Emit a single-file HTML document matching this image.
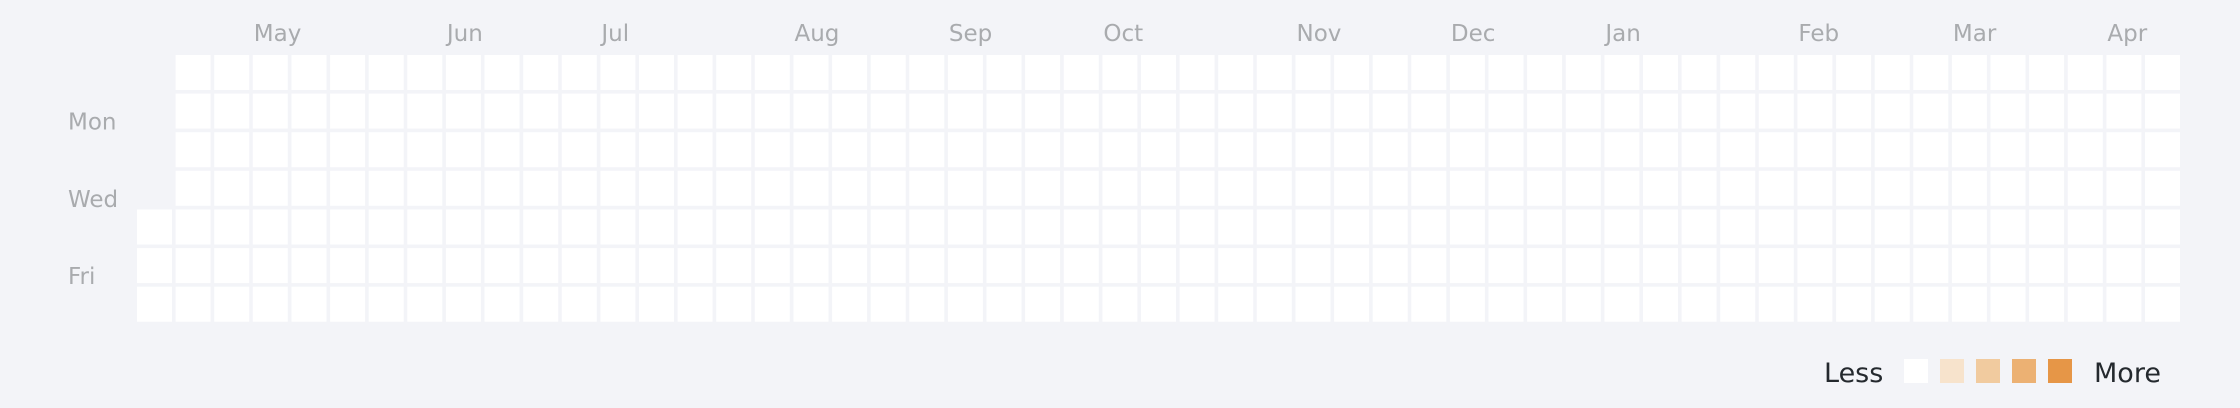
<!DOCTYPE html>
<html><head><meta charset="utf-8"><style>
html,body{margin:0;padding:0;background:#f3f4f8;}
svg{display:block;font-family:"DejaVu Sans","Liberation Sans",sans-serif;}
</style></head><body>
<svg id="chart" width="2240" height="408" viewBox="0 0 2240 408" xmlns="http://www.w3.org/2000/svg">
<rect x="0" y="0" width="2240" height="408" fill="#f3f4f8"/>
<g id="months"></g>
<g id="days"></g>
<g id="cells"></g>
<g id="legend"></g>
</svg>
<script>
const monthLabels = ["May","Jun","Jul","Aug","Sep","Oct","Nov","Dec","Jan","Feb","Mar","Apr"];
const monthWeeks = [3,8,12,17,21,25,30,34,38,43,47,51];
const dayLabels = ["Mon","Wed","Fri"];
const dayRows = [1,3,5];
const levelColors = ["#ffffff","#f7e3cc","#f1cb9f","#ecb173","#e69647"];
// counts per week (7 days each, Sun..Sat); null = outside range
const counts = [
[null,null,null,null,0,0,0],
[0,0,0,0,0,0,0],[0,0,0,0,0,0,0],[0,0,0,0,0,0,0],[0,0,0,0,0,0,0],[0,0,0,0,0,0,0],
[0,0,0,0,0,0,0],[0,0,0,0,0,0,0],[0,0,0,0,0,0,0],[0,0,0,0,0,0,0],[0,0,0,0,0,0,0],
[0,0,0,0,0,0,0],[0,0,0,0,0,0,0],[0,0,0,0,0,0,0],[0,0,0,0,0,0,0],[0,0,0,0,0,0,0],
[0,0,0,0,0,0,0],[0,0,0,0,0,0,0],[0,0,0,0,0,0,0],[0,0,0,0,0,0,0],[0,0,0,0,0,0,0],
[0,0,0,0,0,0,0],[0,0,0,0,0,0,0],[0,0,0,0,0,0,0],[0,0,0,0,0,0,0],[0,0,0,0,0,0,0],
[0,0,0,0,0,0,0],[0,0,0,0,0,0,0],[0,0,0,0,0,0,0],[0,0,0,0,0,0,0],[0,0,0,0,0,0,0],
[0,0,0,0,0,0,0],[0,0,0,0,0,0,0],[0,0,0,0,0,0,0],[0,0,0,0,0,0,0],[0,0,0,0,0,0,0],
[0,0,0,0,0,0,0],[0,0,0,0,0,0,0],[0,0,0,0,0,0,0],[0,0,0,0,0,0,0],[0,0,0,0,0,0,0],
[0,0,0,0,0,0,0],[0,0,0,0,0,0,0],[0,0,0,0,0,0,0],[0,0,0,0,0,0,0],[0,0,0,0,0,0,0],
[0,0,0,0,0,0,0],[0,0,0,0,0,0,0],[0,0,0,0,0,0,0],[0,0,0,0,0,0,0],[0,0,0,0,0,0,0],
[0,0,0,0,0,0,0],[0,0,0,0,0,0,0]
];
const maxCount = 4;

const NS = "http://www.w3.org/2000/svg";
const X0 = 137, Y0 = 55, STEP = 38.615, CELL = 35;
const xWeek = w => X0 + w * STEP;
const yDay = d => Y0 + d * STEP;
const level = v => v <= 0 ? 0 : Math.min(4, Math.ceil(v / maxCount * 4));

const cellsG = document.getElementById('cells');
counts.forEach((week, w) => {
  week.forEach((v, d) => {
    if (v === null) return;
    const r = document.createElementNS(NS, 'rect');
    r.setAttribute('x', xWeek(w).toFixed(1));
    r.setAttribute('y', yDay(d).toFixed(1));
    r.setAttribute('width', CELL);
    r.setAttribute('height', CELL);
    r.setAttribute('fill', levelColors[level(v)]);
    
    
    cellsG.appendChild(r);
  });
});

const monthsG = document.getElementById('months');
monthLabels.forEach((m, i) => {
  const t = document.createElementNS(NS, 'text');
  t.setAttribute('x', (xWeek(monthWeeks[i]) + 1).toFixed(1));
  t.setAttribute('y', 41);
  t.setAttribute('font-size', 23);
  t.setAttribute('fill', '#a9abae');
  t.textContent = m;
  
  
  monthsG.appendChild(t);
});

const daysG = document.getElementById('days');
dayLabels.forEach((d, i) => {
  const t = document.createElementNS(NS, 'text');
  t.setAttribute('x', 68);
  t.setAttribute('y', (yDay(dayRows[i]) + 36).toFixed(1));
  t.setAttribute('font-size', 23);
  t.setAttribute('fill', '#a9abae');
  t.textContent = d;
  
  
  daysG.appendChild(t);
});

const legG = document.getElementById('legend');
const less = document.createElementNS(NS, 'text');
less.setAttribute('x', 1824); less.setAttribute('y', 382);
less.setAttribute('font-size', 27); less.setAttribute('fill', '#24292e');
less.textContent = 'Less';


legG.appendChild(less);
levelColors.forEach((c, i) => {
  const r = document.createElementNS(NS, 'rect');
  r.setAttribute('x', 1904 + i * 36); r.setAttribute('y', 359);
  r.setAttribute('width', 24); r.setAttribute('height', 24);
  r.setAttribute('fill', c);
  
  
  legG.appendChild(r);
});
const more = document.createElementNS(NS, 'text');
more.setAttribute('x', 2094); more.setAttribute('y', 382);
more.setAttribute('font-size', 27); more.setAttribute('fill', '#24292e');
more.textContent = 'More';


legG.appendChild(more);
</script>
</body></html>
